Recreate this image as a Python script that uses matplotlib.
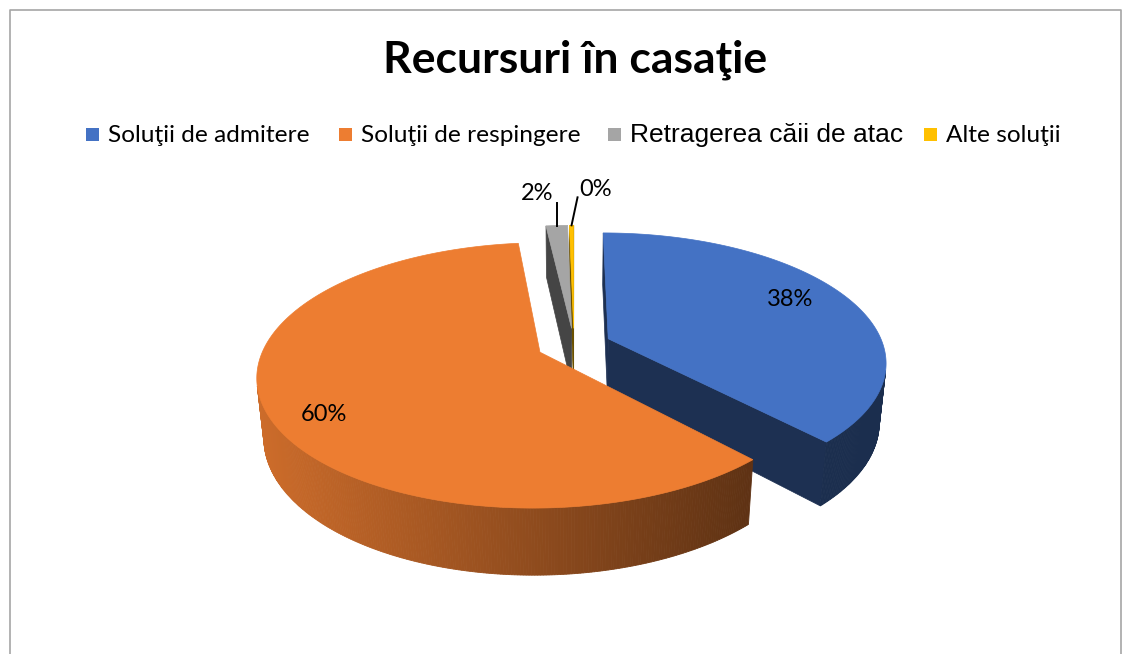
import numpy as np
import matplotlib
matplotlib.use("Agg")
import matplotlib.pyplot as plt
from matplotlib.patches import Polygon, Rectangle

# data
categories = ["Soluţii de admitere", "Soluţii de respingere", "Retragerea căii de atac", "Alte soluţii"]
values = [38.0, 60.2, 1.5, 0.3]
labels = ["38%", "60%", "2%", "0%"]
colors = ["#4472c4", "#ed7d31", "#a5a5a5", "#ffc000"]

# 3d view settings (pixel canvas)
W, H = 1126, 654
CX, CY, R = 574.0, 345.0, 275.0
ELEV = np.radians(27.3)
DIST = 5.14
DEPTH = 0.245
EXPLODE = 0.135
cam = np.array([0.0, -DIST * np.cos(ELEV), DIST * np.sin(ELEV)])


def proj(x, y, z):
    c, s = np.cos(ELEV), np.sin(ELEV)
    yv = y * s + z * c
    d = y * c - z * s
    f = DIST / (DIST + d)
    return CX + R * x * f, CY - R * yv * f


def shade(hexcol, k):
    rgb = np.array(matplotlib.colors.to_rgb(hexcol))
    return tuple(np.clip(rgb * k, 0, 1))


def visible(normal, point):
    return np.dot(normal, cam - np.asarray(point)) > 0


fig = plt.figure(figsize=(W / 100, H / 100), dpi=100)
ax = fig.add_axes([0, 0, 1, 1])
ax.set_xlim(0, W)
ax.set_ylim(H, 0)
ax.axis("off")

# chart border
ax.plot([10, 10, 1121, 1121], [H, 10, 10, H], color="#a6a6a6", lw=1.2)

fracs = np.array(values) / sum(values)
starts = np.concatenate([[0], np.cumsum(fracs)[:-1]]) * 2 * np.pi
ends = np.cumsum(fracs) * 2 * np.pi

slices = []
for i in range(len(values)):
    t1, t2 = starts[i], ends[i]
    tm = (t1 + t2) / 2
    ox, oy = EXPLODE * np.sin(tm), EXPLODE * np.cos(tm)
    slices.append((i, t1, t2, tm, ox, oy))

# draw back to front (far slices first)
order = sorted(slices, key=lambda s: -(s[5] + 0.5 * np.cos(s[3])))

for i, t1, t2, tm, ox, oy in order:
    col = colors[i]
    # radial walls
    for t, n in [(t1, (-np.cos(t1), np.sin(t1), 0)), (t2, (np.cos(t2), -np.sin(t2), 0))]:
        p_out = (ox + np.sin(t), oy + np.cos(t), 0)
        if not visible(n, ((ox + p_out[0]) / 2, (oy + p_out[1]) / 2, -DEPTH / 2)):
            continue
        pts = [proj(ox, oy, 0), proj(p_out[0], p_out[1], 0),
               proj(p_out[0], p_out[1], -DEPTH), proj(ox, oy, -DEPTH)]
        ax.add_patch(Polygon(pts, closed=True, fc=shade(col, 0.42), ec=shade(col, 0.42), lw=0.5))
    # outer rim in strips, shaded from left to right
    n_steps = max(2, int(np.degrees(t2 - t1) / 0.5))
    th = np.linspace(t1, t2, n_steps + 1)
    for a, b in zip(th[:-1], th[1:]):
        m = (a + b) / 2
        if not visible((np.sin(m), np.cos(m), 0), (ox + np.sin(m), oy + np.cos(m), -DEPTH / 2)):
            continue
        pts = [proj(ox + np.sin(a), oy + np.cos(a), 0), proj(ox + np.sin(b), oy + np.cos(b), 0),
               proj(ox + np.sin(b), oy + np.cos(b), -DEPTH), proj(ox + np.sin(a), oy + np.cos(a), -DEPTH)]
        sx = proj(ox + np.sin(m), oy + np.cos(m), 0)[0]
        k = np.clip(0.86 - (sx - 260) / 490 * 0.46, 0.4, 0.9)
        ax.add_patch(Polygon(pts, closed=True, fc=shade(col, k), ec=shade(col, k), lw=0.6))
    # top face
    th = np.linspace(t1, t2, max(3, int(np.degrees(t2 - t1) * 2)))
    pts = [proj(ox, oy, 0)] + [proj(ox + np.sin(t), oy + np.cos(t), 0) for t in th]
    ax.add_patch(Polygon(pts, closed=True, fc=col, ec=col, lw=0.5))

# data labels
lab_font = ["Lato", "DejaVu Sans"]
for i, t1, t2, tm, ox, oy in slices:
    if fracs[i] > 0.1:
        lx, ly = proj(ox + 0.78 * np.sin(tm), oy + 0.78 * np.cos(tm), 0)
        ly = CY + (ly - CY) * 1.25
        ax.text(lx - 5, ly + 5, labels[i], ha="center", va="center", fontsize=17, family=lab_font)
    else:
        ex, ey = proj(ox + np.sin(tm), oy + np.cos(tm), 0)
        if i == 2:
            ax.plot([ex, ex], [ey, ey - 23], color="black", lw=1.4)
            ax.text(ex - 3, ey - 32, labels[i], ha="right", va="center", fontsize=17, family=lab_font)
        else:
            ax.plot([ex, ex + 6], [ey, ey - 28], color="black", lw=1.4)
            ax.text(ex + 8, ey - 36, labels[i], ha="left", va="center", fontsize=17, family=lab_font)

# title
ax.text(575, 72, "Recursuri în casaţie", ha="center", va="baseline", fontsize=32,
        fontweight="bold", family=["Lato", "DejaVu Sans"])

# legend
text_x = [108, 361, 630, 946]
leg_font = [lab_font, lab_font, ["Liberation Sans", "DejaVu Sans"], lab_font]
leg_size = [17.6, 17.6, 19, 17.6]
for x, name, col, fam, fs in zip(text_x, categories, colors, leg_font, leg_size):
    ax.add_patch(Rectangle((x - 22, 128), 13, 13, fc=col, ec="none"))
    ax.text(x, 142, name, ha="left", va="baseline", fontsize=fs, family=fam)

fig.savefig("out.png", dpi=100)
